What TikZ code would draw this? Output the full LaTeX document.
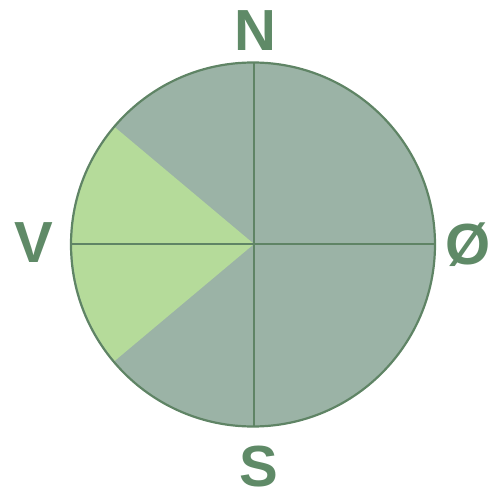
\documentclass[tikz,border=0pt]{standalone}
\usepackage{fontspec}
\setmainfont{Liberation Sans}
\definecolor{sector}{HTML}{9BB3A6}
\definecolor{wedge}{HTML}{B5DB9A}
\definecolor{edge}{HTML}{5F8465}
\definecolor{lbl}{HTML}{5F8A67}
\begin{document}
\begin{tikzpicture}[x=1pt,y=-1pt,
  lblstyle/.style={text=lbl,font=\fontsize{58}{58}\selectfont\bfseries,inner sep=0pt},
  rim/.style={draw=edge,line width=2.2pt}]
\useasboundingbox (0,0) rectangle (491,490);
\coordinate (c) at (253,244.5);
\coordinate (top) at (254,62);
\coordinate (bot) at (254,427);
\coordinate (lft) at (71,244);
\coordinate (rgt) at (435,244);
\fill[sector] (c) circle (182);
\fill[wedge] (254,244) -- ++(140:182) arc[start angle=140,end angle=220,radius=182] -- cycle;
\draw[rim] (c) circle (182);
\draw[edge,line width=2pt] (top) -- (bot);
\draw[edge,line width=2pt] (lft) -- (rgt);
\node[lblstyle] (N) at (255,31) {N};
\node[lblstyle] (S) at (259,467) {S};
\node[lblstyle] (V) at (34,243) {V};
\node[lblstyle] (O) at (468,245) {Ø};
\end{tikzpicture}
\end{document}
